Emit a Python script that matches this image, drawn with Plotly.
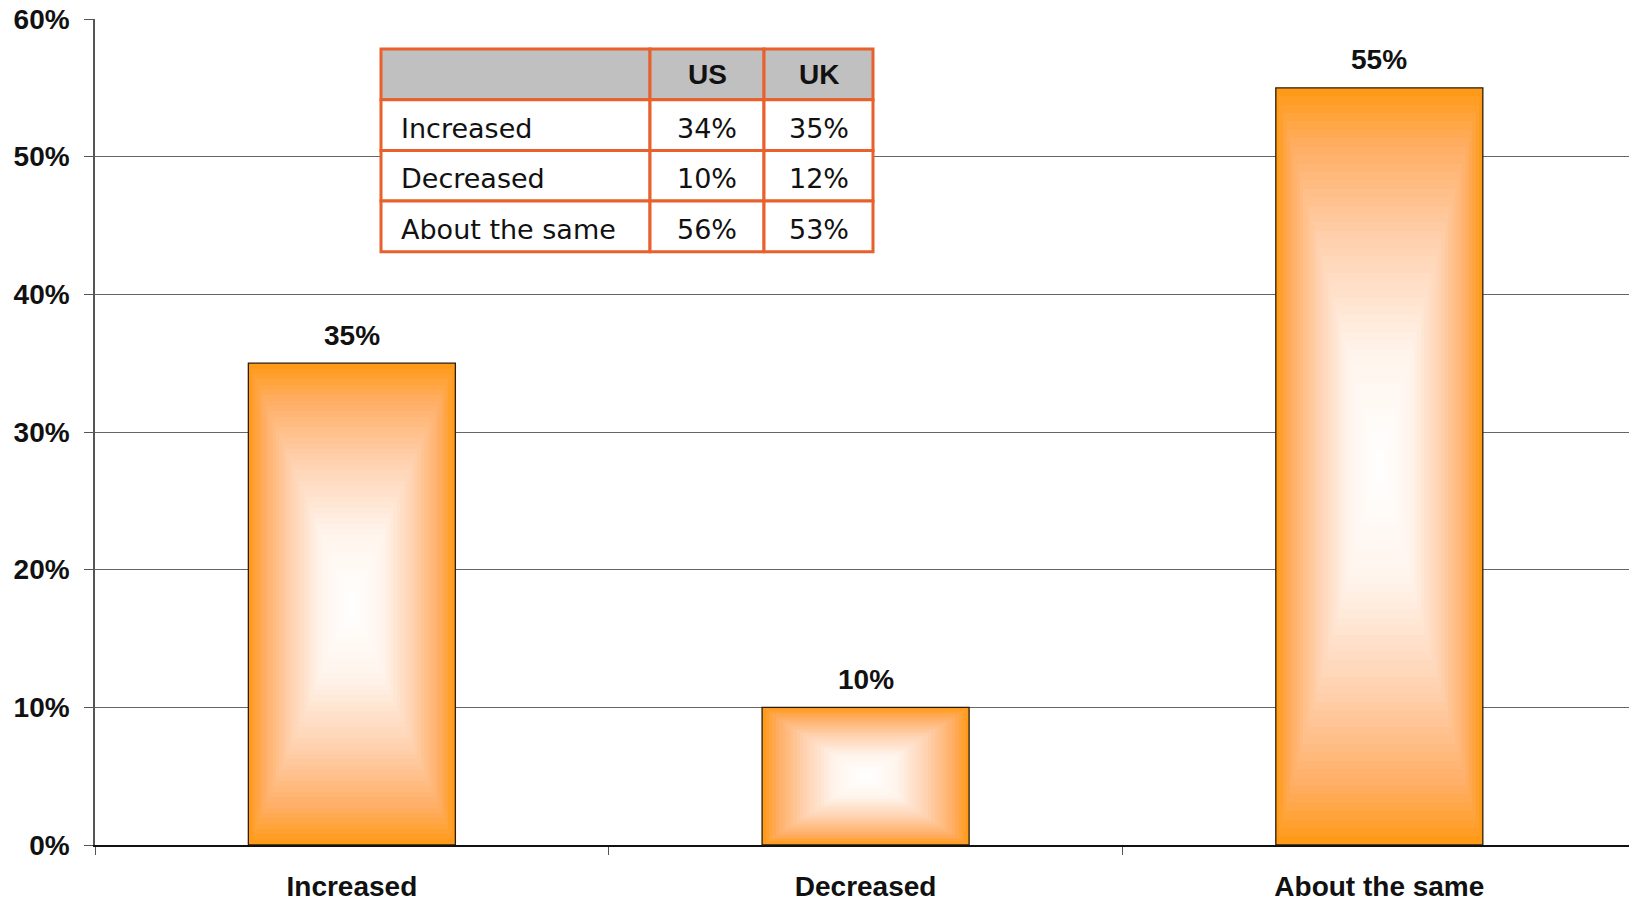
import numpy as np
import plotly.graph_objects as go

categories = ["Increased", "Decreased", "About the same"]
values = [35, 10, 55]
value_labels = ["35%", "10%", "55%"]

table_rows = ["Increased", "Decreased", "About the same"]
table_us = ["34%", "10%", "56%"]
table_uk = ["35%", "12%", "53%"]
table_header = ["", "US", "UK"]

y_ticks = [0, 10, 20, 30, 40, 50, 60]

# ---- style / layout constants (pixels) ----
W, H = 1629, 903
M_L, M_R, M_T, M_B = 95, 0, 19, 58
PLOT_W, PLOT_H = W - M_L - M_R, H - M_T - M_B
BAR_W = 0.403
ORANGE_SCALE = [[0.0, "#ffffff"], [0.3, "#fff4ec"], [0.6, "#ffd0ad"], [0.85, "#ffad62"], [1.0, "#ff9812"]]
BOLD = dict(family="Liberation Sans", size=28, color="#111", weight="bold")

TABLE_X0, TABLE_Y0 = 381, 49            # top-left border (px)
TABLE_COL_W = [269, 114, 109]
TABLE_ROW_H = 50.7
TABLE_BORDER = "#e8602c"


def px_x(p):
    return (p - M_L) / PLOT_W


def px_y(p):
    return (H - M_B - p) / PLOT_H


fig = go.Figure()

xs = list(range(len(categories)))
for xi, v in zip(xs, values):
    nx, ny = 60, 90
    xe = np.linspace(xi - BAR_W / 2, xi + BAR_W / 2, nx + 1)
    ye = np.linspace(0, v, ny + 1)
    u = (np.arange(nx) + 0.5) / nx * 2 - 1
    w = (np.arange(ny) + 0.5) / ny * 2 - 1
    U, Wg = np.meshgrid(np.abs(u), np.abs(w))
    z = np.maximum(U, Wg)
    fig.add_trace(go.Heatmap(x=xe, y=ye, z=z, colorscale=ORANGE_SCALE, zmin=0, zmax=1,
                             showscale=False, hoverinfo="skip"))

fig.add_trace(go.Bar(x=xs, y=values, width=BAR_W,
                     marker=dict(color="rgba(0,0,0,0)", line=dict(color="#2b1d08", width=1.3)),
                     hoverinfo="skip"))

for xi, v, lab in zip(xs, values, value_labels):
    fig.add_annotation(x=xi, y=v, text=lab, showarrow=False, yanchor="middle",
                       yshift=28, font=BOLD)

# ---- table (header + rows) ----
table_cols = [[table_header[0]] + table_rows,
              [table_header[1]] + table_us,
              [table_header[2]] + table_uk]
col_edges = [TABLE_X0]
for cw in TABLE_COL_W:
    col_edges.append(col_edges[-1] + cw)
for ci, col in enumerate(table_cols):
    for ri, txt in enumerate(col):
        y0p = TABLE_Y0 + ri * TABLE_ROW_H
        y1p = y0p + TABLE_ROW_H
        fig.add_shape(type="rect", xref="paper", yref="paper",
                      x0=px_x(col_edges[ci]), x1=px_x(col_edges[ci + 1]),
                      y0=px_y(y1p), y1=px_y(y0p),
                      fillcolor="#c0c0c0" if ri == 0 else "white",
                      line=dict(color=TABLE_BORDER, width=3), layer="above")
        if not txt:
            continue
        if ri == 0:
            font = BOLD
            ymid = px_y((y0p + y1p) / 2)
        else:
            font = dict(family="DejaVu Sans", size=27, color="#111")
            ymid = px_y((y0p + y1p) / 2 + 3)
        if ci == 0:
            fig.add_annotation(xref="paper", yref="paper", x=px_x(col_edges[0] + 18), y=ymid,
                               xanchor="left", yanchor="middle", text=txt, showarrow=False, font=font)
        else:
            fig.add_annotation(xref="paper", yref="paper",
                               x=px_x((col_edges[ci] + col_edges[ci + 1]) / 2), y=ymid,
                               xanchor="center", yanchor="middle", text=txt, showarrow=False, font=font)

fig.update_layout(
    width=W, height=H,
    margin=dict(l=M_L, r=M_R, t=M_T, b=M_B),
    paper_bgcolor="white", plot_bgcolor="white",
    showlegend=False,
    xaxis=dict(range=[-0.5, 2.486], tickvals=xs, ticktext=categories,
               ticks="", showgrid=False, zeroline=False, automargin=False,
               showline=True, linecolor="#111", linewidth=1.5,
               tickfont=BOLD, ticklabelstandoff=16,
               minor=dict(ticks="outside", ticklen=8, tick0=-0.5, dtick=1, tickcolor="#555", tickwidth=1.2,
                          showgrid=False)),
    yaxis=dict(range=[0, 60], tickvals=y_ticks, ticktext=[f"{t}%" for t in y_ticks],
               ticks="outside", ticklen=9, tickcolor="#555", tickwidth=1.2,
               showgrid=True, gridcolor="#666", gridwidth=1.2, zeroline=False, automargin=False,
               showline=True, linecolor="#555", linewidth=1.5,
               tickfont=BOLD, ticklabelstandoff=9),
)

fig.write_html("out.html")
